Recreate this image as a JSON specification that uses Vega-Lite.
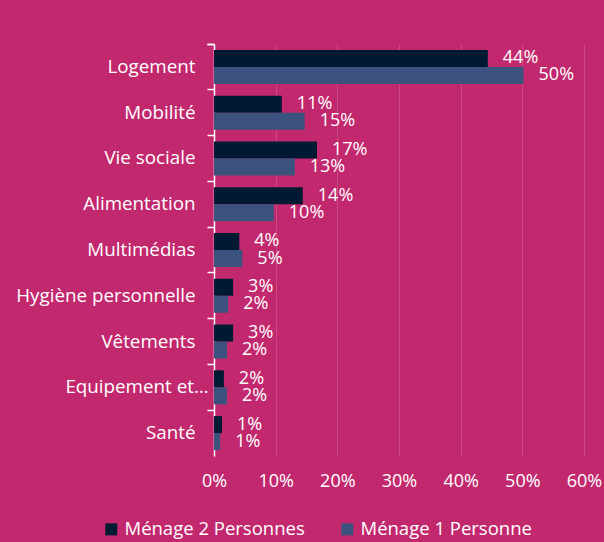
{
  "$schema": "https://vega.github.io/schema/vega-lite/v6.json",
  "width": 370,
  "height": 412,
  "autosize": {"type": "none"},
  "padding": {"left": 214, "top": 44, "right": 20, "bottom": 86},
  "background": "#C2286E",
  "config": {
    "view": {"stroke": null},
    "font": "Open Sans",
    "axis": {"labelFont": "Open Sans", "labelColor": "#FFFFFF"},
    "legend": {"labelFont": "Open Sans"}
  },
  "data": {
    "values": [
      {"categorie": "Logement", "menage": "Ménage 2 Personnes", "part": 0.444},
      {"categorie": "Logement", "menage": "Ménage 1 Personne", "part": 0.502},
      {"categorie": "Mobilité", "menage": "Ménage 2 Personnes", "part": 0.110},
      {"categorie": "Mobilité", "menage": "Ménage 1 Personne", "part": 0.147},
      {"categorie": "Vie sociale", "menage": "Ménage 2 Personnes", "part": 0.167},
      {"categorie": "Vie sociale", "menage": "Ménage 1 Personne", "part": 0.131},
      {"categorie": "Alimentation", "menage": "Ménage 2 Personnes", "part": 0.144},
      {"categorie": "Alimentation", "menage": "Ménage 1 Personne", "part": 0.097},
      {"categorie": "Multimédias", "menage": "Ménage 2 Personnes", "part": 0.041},
      {"categorie": "Multimédias", "menage": "Ménage 1 Personne", "part": 0.046},
      {"categorie": "Hygiène personnelle", "menage": "Ménage 2 Personnes", "part": 0.031},
      {"categorie": "Hygiène personnelle", "menage": "Ménage 1 Personne", "part": 0.023},
      {"categorie": "Vêtements", "menage": "Ménage 2 Personnes", "part": 0.031},
      {"categorie": "Vêtements", "menage": "Ménage 1 Personne", "part": 0.021},
      {"categorie": "Equipement et entretien", "menage": "Ménage 2 Personnes", "part": 0.016},
      {"categorie": "Equipement et entretien", "menage": "Ménage 1 Personne", "part": 0.021},
      {"categorie": "Santé", "menage": "Ménage 2 Personnes", "part": 0.013},
      {"categorie": "Santé", "menage": "Ménage 1 Personne", "part": 0.010}
    ]
  },
  "encoding": {
    "y": {
      "field": "categorie",
      "type": "nominal",
      "sort": null,
      "scale": {"paddingInner": 0, "paddingOuter": 0},
      "axis": {
        "title": null,
        "bandPosition": 0,
        "tickExtra": true,
        "domainColor": "#FFFFFF",
        "domainWidth": 1.5,
        "tickColor": "#FFFFFF",
        "tickWidth": 1.5,
        "tickSize": 7,
        "labelFontSize": 18.8,
        "labelPadding": {"condition": {"test": "datum.value == 'Equipement et entretien'", "value": -1}, "value": 12},
        "labelLimit": 220,
        "labelExpr": "datum.label == 'Equipement et entretien' ? 'Equipement et…' : datum.label"
      }
    },
    "yOffset": {
      "field": "menage",
      "type": "nominal",
      "sort": ["Ménage 2 Personnes", "Ménage 1 Personne"],
      "scale": {"paddingInner": 0, "paddingOuter": 0.346}
    },
    "x": {
      "field": "part",
      "type": "quantitative",
      "scale": {"domain": [0, 0.6]},
      "axis": {
        "title": null,
        "format": ".0%",
        "values": [0, 0.1, 0.2, 0.3, 0.4, 0.5, 0.6],
        "domain": false,
        "ticks": false,
        "grid": true,
        "gridColor": "#FFFFFF",
        "gridOpacity": 0.15,
        "labelFlush": false,
        "labelFontSize": 18,
        "labelPadding": 16
      }
    }
  },
  "layer": [
    {
      "mark": {"type": "bar"},
      "encoding": {
        "color": {
          "field": "menage",
          "type": "nominal",
          "sort": ["Ménage 2 Personnes", "Ménage 1 Personne"],
          "scale": {"domain": ["Ménage 2 Personnes", "Ménage 1 Personne"], "range": ["#001A33", "#3A527D"]},
          "legend": {
            "title": null,
            "orient": "none",
            "direction": "horizontal",
            "legendX": -112,
            "legendY": 476,
            "symbolType": "square",
            "symbolSize": 144,
            "symbolStrokeWidth": 0,
            "labelColor": "#FFFFFF",
            "labelFontSize": 18.5,
            "labelOffset": 4,
            "labelLimit": 300,
            "columnPadding": 33
          }
        }
      }
    },
    {
      "mark": {"type": "text", "align": "left", "baseline": "middle", "dx": 15, "fontSize": 18, "color": "#FFFFFF"},
      "encoding": {
        "text": {"field": "part", "type": "quantitative", "format": ".0%"}
      }
    }
  ]
}
